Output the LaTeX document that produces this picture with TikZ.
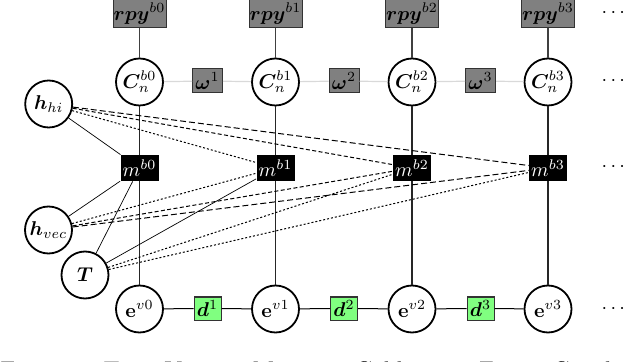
\documentclass[tikz,border=0pt]{standalone}
\usepackage{amsmath,bm}
\begin{document}
\begin{tikzpicture}[x=0.5pt,y=-0.5pt,
  var/.style={circle,draw,line width=0.9pt,minimum size=23.5pt,inner sep=0pt,fill=white},
  rpybox/.style={rectangle,draw=black!80,line width=0.5pt,fill=black!50,inner sep=0pt,minimum width=26.5pt,minimum height=14pt},
  wbox/.style={rectangle,draw=black!80,line width=0.5pt,fill=black!50,inner sep=0pt,minimum width=15pt,minimum height=12pt},
  mbox/.style={rectangle,fill=black,text=white,inner sep=0pt,minimum width=19pt,minimum height=13pt},
  dbox/.style={rectangle,draw=black!80,line width=0.5pt,fill=green!50,inner sep=0pt,minimum width=13.5pt,minimum height=11.5pt},
  vline/.style={line width=0.6pt,black!85},
  rline/.style={line width=0.6pt,black!75},
  wline/.style={line width=0.6pt,black!15},
  dline/.style={line width=0.5pt,black},
  fac/.style={line width=0.35pt,black},
  facdot/.style={line width=0.5pt,black,dash pattern=on 1pt off 1pt},
  facdsh/.style={line width=0.5pt,black,dash pattern=on 2pt off 1.2pt},
  faclng/.style={line width=0.5pt,black,dash pattern=on 3pt off 1.5pt}]
\useasboundingbox (0,0) rectangle (640,362);

\foreach \i/\x in {0/139.5,1/275.5,2/412,3/548}{
  \node[rpybox] (r\i) at (\x,13.5) {$\bm{rpy}^{b\i}$};
  \node[var] (c\i) at (\x,82) {$\bm{C}_n^{b\i}$};
  \node[mbox] (m\i) at (\x,168) {$m^{b\i}$};
  \node[var] (e\i) at (\x,309) {$\mathbf{e}^{v\i}$};
  \draw[rline] (r\i) -- (c\i);
  \draw[vline] (c\i) -- (m\i);
  \draw[vline] (m\i) -- (e\i);
}

\foreach \i/\x in {1/207.5,2/344,3/480.5}{
  \node[wbox] (w\i) at (\x,81) {$\bm{\omega}^{\i}$};
  \node[dbox] (d\i) at (\x,308.5) {$\bm{d}^{\i}$};
}
\draw[wline] (c0) -- (w1) -- (c1) -- (w2) -- (c2) -- (w3) -- (c3);
\draw[dline] (e0) -- (d1) -- (e1) -- (d2) -- (e2) -- (d3) -- (e3);

\node (dots0) at (615,13) {$\cdots$};
\node (dots1) at (615,81) {$\cdots$};
\node (dots2) at (615,167) {$\cdots$};
\node (dots3) at (615,309) {$\cdots$};

\node[var] (hhi) at (48.7,104) {$\bm{h}_{hi}$};
\node[var] (hvec) at (48.5,230) {$\bm{h}_{vec}$};
\node[var] (T) at (85,275) {$\bm{T}$};

\draw[fac] (hhi) -- (m0);
\draw[facdot] (hhi) -- (m1);
\draw[facdsh] (hhi) -- (m2);
\draw[faclng] (hhi) -- (m3);

\draw[fac] (hvec) -- (m0);
\draw[facdot] (hvec) -- (m1);
\draw[facdsh] (hvec) -- (m2);
\draw[faclng] (hvec) -- (m3);

\draw[fac] (T) -- (m0);
\draw[fac] (T) -- (m1);
\draw[facdot] (T) -- (m2);
\draw[facdot] (T) -- (m3);

\node[anchor=base west,inner sep=0pt,font=\fontsize{12}{14}\selectfont] (cap) at (0,378) {Figure 3: Time-Varying Magnetic Calibration Factor Graph};
\end{tikzpicture}
\end{document}
